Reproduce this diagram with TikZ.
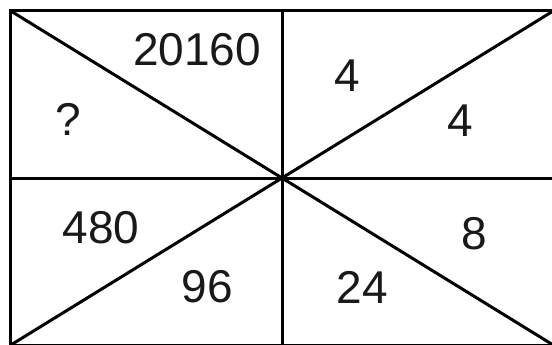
\documentclass[tikz,border=0pt]{standalone}
\usepackage{fontspec}
\setmainfont{Liberation Sans}
\usepackage{xcolor}
\usetikzlibrary{positioning}

\tikzset{
  gridline/.style={black, line width=3pt},
  numlabel/.style={font=\fontsize{46}{55}\selectfont, text=black!90, inner sep=0pt, anchor=center}
}

\begin{document}
\begin{tikzpicture}[x=1pt, y=-1pt]
\useasboundingbox (0,0) rectangle (552,345);
\clip (0,0) rectangle (552,345);
\fill[white] (0,0) rectangle (552,345);
% frame corners and crossing point
\coordinate (tl) at (10,10.5);
\coordinate (br) at (554,345.5);
\coordinate (mid) at (282,178);
\draw[gridline] (tl) rectangle (br);
\draw[gridline] (mid |- tl) -- (mid |- br);
\draw[gridline] (mid -| tl) -- (mid -| br);
\draw[gridline] (tl) -- (br);
\draw[gridline] (tl -| br) -- (tl |- br);
% numbers
\node[numlabel] (topleftA) at (197,49.5) {20160};
\node[numlabel] (topleftB) at (68,119) {?};
\node[numlabel] (toprightA) at (347.5,75.5) {4};
\node[numlabel] (toprightB) at (460,121) {4};
\node[numlabel] (botleftA) at (101,228) {480};
\node[numlabel] (botleftB) at (207.5,286.5) {96};
\node[numlabel] (botrightA) at (474,233.5) {8};
\node[numlabel] (botrightB) at (362.5,287.5) {24};
\end{tikzpicture}
\end{document}
